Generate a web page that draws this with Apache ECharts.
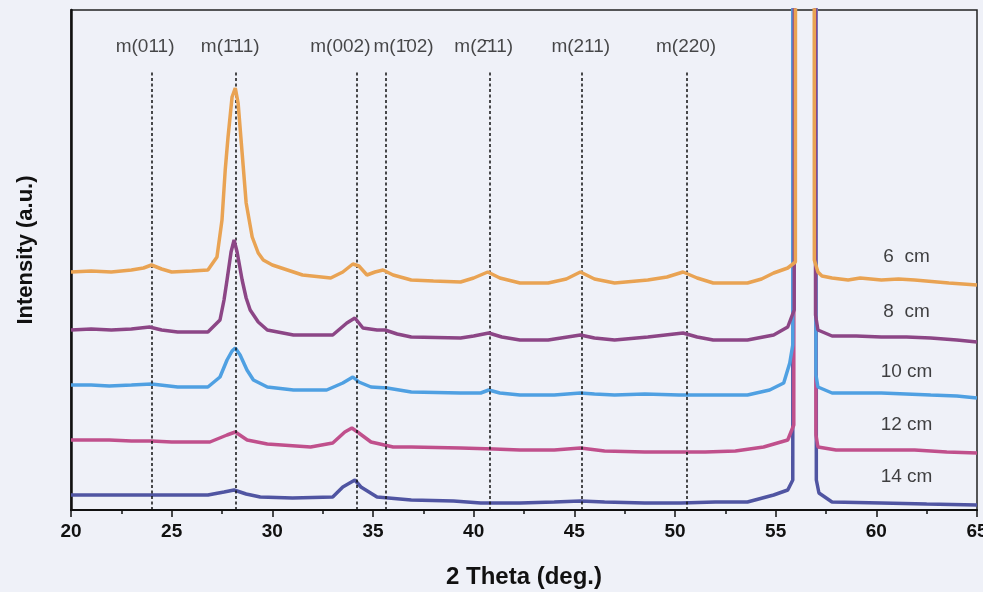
<!DOCTYPE html>
<html>
<head>
<meta charset="utf-8">
<script src="https://cdn.jsdelivr.net/npm/echarts@6/dist/echarts.min.js"></script>
<style>
html,body{margin:0;padding:0;background:#eff1f8;}
#chart{width:983px;height:592px;}
</style>
</head>
<body>
<div id="chart"></div>
<script>
// ---- data (2θ in degrees, intensity in arbitrary offset units) ----
var xTicks = [20, 25, 30, 35, 40, 45, 50, 55, 60, 65];

var s6cm = [[20,238],[21,239],[22,238],[23,240],[23.6,242],[24.0,245],[24.5,241],[25,238],[26,239],[26.8,240],[27.25,253],[27.5,290],[27.66,340],[27.8,373],[28.0,413],[28.16,422],[28.3,407],[28.5,357],[28.7,307],[29.0,273],[29.3,257],[29.55,250],[30,245],[30.75,240],[31.5,235],[32.9,232],[33.5,238],[34.0,246],[34.3,244],[34.7,235],[35.1,238],[35.5,240],[36.0,235],[36.9,230],[38,229],[39.35,228],[40.0,232],[40.7,238],[41.3,232],[42.3,227],[43.7,227],[44.6,231],[45.3,238],[46,231],[47,227],[48.65,230],[49.6,233],[50.4,238],[51.1,232],[51.9,227],[53.6,227],[54.3,231],[54.9,237],[55.6,242],[55.98,248],[56.45,30000],[56.92,250],[57.1,238],[57.3,234],[57.8,232],[58.6,230],[59.2,232],[60.25,230],[61.1,231],[61.9,230],[63.6,227],[65,225]];

var s8cm = [[20,180],[21,181],[22,180],[23,181],[23.9,183],[24.5,180],[25.3,178],[26.8,178],[27.4,190],[27.6,210],[27.75,230],[27.95,258],[28.1,270],[28.25,258],[28.5,230],[28.7,212],[28.9,200],[29.3,188],[29.75,180],[31.05,175],[33.0,175],[33.7,187],[34.1,192],[34.5,182],[35.2,180],[35.6,180],[36.2,176],[36.9,173],[39.35,172],[40.0,174],[40.75,177],[41.4,173],[42.3,170],[43.7,170],[45.3,175],[46,172],[47,170],[48.65,173],[50.4,177],[51.1,173],[51.9,170],[53.6,170],[54.9,175],[55.6,183],[55.92,200],[56.45,30000],[56.98,195],[57.1,180],[57.8,174],[59,174],[60.25,173],[61.5,173],[62.7,172],[64,170],[65,168]];

var s10cm = [[20,125],[21,125],[21.9,124],[23,125],[24.0,126],[25.3,123],[26.8,123],[27.4,133],[27.75,150],[28.0,159],[28.16,162],[28.4,155],[28.74,140],[29.06,130],[29.75,123],[31.05,120],[32.7,120],[33.5,127],[34.0,133],[34.3,128],[34.9,123],[35.7,122],[36.9,118],[39.35,117],[40.35,117],[40.75,120],[41.3,117],[42.3,115],[44,115],[45.3,117],[46,116],[47,115],[48.5,116],[50.2,115],[52,115],[53.6,115],[54.7,120],[55.4,127],[55.7,147],[55.85,165],[56.45,30000],[57.0,135],[57.1,123],[57.8,117],[59,117],[60.25,117],[62.7,115],[64,114],[65,112]];

var s12cm = [[20,70],[21,70],[21.9,70],[23,69],[24.0,69],[25,68],[26.9,68],[27.75,75],[28.16,78],[28.75,70],[29.75,66],[31.9,63],[33.0,67],[33.6,78],[33.95,82],[34.3,77],[34.9,68],[36.0,63],[36.9,63],[39.35,62],[41,61],[42.3,60],[44,60],[45.3,62],[46.5,59],[48.5,58],[51.5,58],[53,59],[54.4,63],[55.6,70],[55.9,85],[56.45,30000],[57.0,75],[57.1,63],[58,60],[59.5,60],[61.9,60],[63.5,58],[65,57]];

var s14cm = [[20,15],[21.5,15],[22.9,15],[24,15],[25.5,15],[26.8,15],[27.6,18],[28.1,20],[28.7,16],[29.4,13],[31,12],[33,13],[33.5,23],[34.1,30],[34.4,23],[35.2,13],[36.9,10],[39,9],[40.35,7],[42.3,7],[44,8],[45.3,9],[46.5,8],[48.5,7],[50.3,7],[52,8],[53.6,8],[54.9,15],[55.6,20],[55.85,30],[56.45,30000],[57.02,30],[57.15,17],[57.8,8],[60.25,7],[62.5,6],[65,5]];

var seriesNames = ['14 cm', '12 cm', '10 cm', '8  cm', '6  cm'];
var seriesData = [s14cm, s12cm, s10cm, s8cm, s6cm];
var seriesColors = ['#5055a2', '#c0508c', '#4fa0e2', '#8c4686', '#e9a353'];
var nameLabelY = [33, 85, 138, 198, 253];
var nameLabelX = 61.5;

var refPeaks = [24.03, 28.16, 34.18, 35.62, 40.8, 45.37, 50.6];
var refLabels = ['m(011)', 'm(1\u030411)', 'm(002)', 'm(1\u030402)', 'm(2\u030411)', 'm(211)', 'm(220)'];
var refLabelX = [23.68, 27.91, 33.38, 36.52, 40.5, 45.32, 50.55];
var refLineTop = 440;
var refLabelY = 463;

// ---- chart ----
var chart = echarts.init(document.getElementById('chart'));
var series = [];

series.push({
  type: 'line',
  data: [],
  silent: true,
  markLine: {
    silent: true,
    symbol: ['none', 'none'],
    label: { show: false },
    lineStyle: { color: '#111', type: [3, 2.5], width: 1.5 },
    data: refPeaks.map(function (p) { return [{ coord: [p, 0] }, { coord: [p, refLineTop] }]; })
  },
  z: 1
});

for (var i = 0; i < seriesData.length; i++) {
  series.push({
    type: 'line',
    name: seriesNames[i],
    data: seriesData[i],
    showSymbol: false,
    symbol: 'none',
    lineStyle: { color: seriesColors[i], width: 3.5 },
    itemStyle: { color: seriesColors[i] },
    clip: true,
    z: 2 + i
  });
}

series.push({
  type: 'scatter',
  symbolSize: 0,
  silent: true,
  data: refLabelX.map(function (x, k) { return { value: [x, refLabelY], name: refLabels[k] }; }),
  label: {
    show: true, position: 'inside',
    formatter: function (p) { return p.name; },
    color: '#1a1a1a', fontSize: 19,
    fontFamily: '"Liberation Sans", Arial, "DejaVu Sans", sans-serif'
  },
  z: 10
});

series.push({
  type: 'scatter',
  symbolSize: 0,
  silent: true,
  data: nameLabelY.map(function (y, k) { return { value: [nameLabelX, y], name: seriesNames[k] }; }),
  label: {
    show: true, position: 'inside',
    formatter: function (p) { return p.name; },
    color: '#111', fontSize: 19,
    fontFamily: '"Liberation Sans", Arial, sans-serif'
  },
  z: 10
});

chart.setOption({
  backgroundColor: '#eff1f8',
  animation: false,
  grid: { left: 71, right: 6, top: 10, bottom: 82, show: true, borderColor: '#222', borderWidth: 1.5, backgroundColor: 'transparent', outerBoundsMode: 'none', containLabel: false },
  xAxis: {
    type: 'value', min: 20, max: 65, interval: 5,
    name: '2 Theta (deg.)', nameLocation: 'middle', nameGap: 55,
    nameTextStyle: { fontSize: 24, fontWeight: 'bold', color: '#111', fontFamily: '"Liberation Sans Narrow", "Arial Narrow", "Liberation Sans", sans-serif' },
    axisLine: { show: true, lineStyle: { color: '#111', width: 2 } },
    axisTick: { show: true, inside: false, length: 7, lineStyle: { color: '#111', width: 1.5 } },
    minorTick: { show: true, splitNumber: 2, length: 4, lineStyle: { color: '#111', width: 1.5 } },
    splitLine: { show: false },
    axisLabel: {
      margin: 12, fontSize: 19, fontWeight: 'bold', color: '#111',
      fontFamily: '"Liberation Sans Narrow", "Arial Narrow", "Liberation Sans", sans-serif',
      formatter: function (v) { return xTicks.indexOf(v) >= 0 ? String(v) : ''; }
    }
  },
  yAxis: {
    type: 'value', min: 0, max: 500,
    name: 'Intensity (a.u.)', nameLocation: 'middle', nameGap: 34, nameRotate: 90,
    nameTextStyle: { fontSize: 22, fontWeight: 'bold', color: '#111', fontFamily: '"Liberation Sans", Arial, sans-serif', padding: [0, 0, 0, 20] },
    axisLine: { show: true, lineStyle: { color: '#111', width: 2.5 } },
    axisTick: { show: false },
    axisLabel: { show: false },
    splitLine: { show: false }
  },
  series: series
});
</script>
</body>
</html>
